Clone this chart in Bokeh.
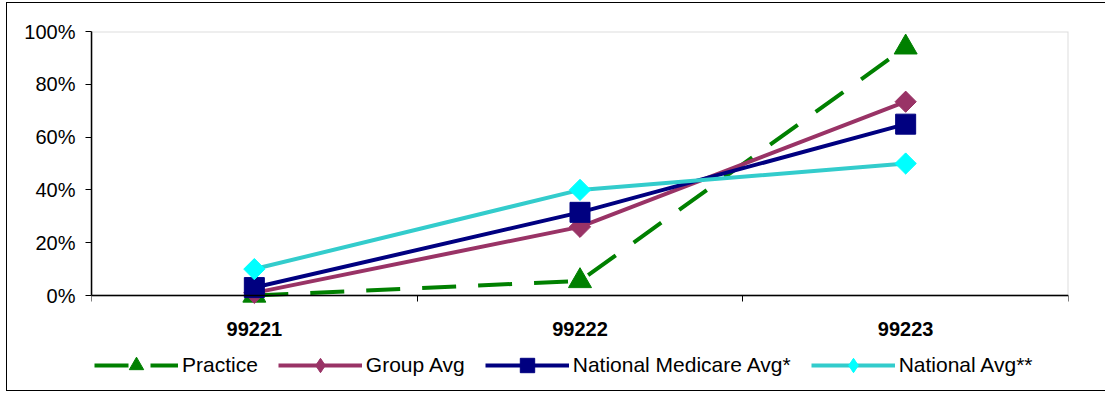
import math
from bokeh.plotting import figure
from bokeh.models import (Range1d, FixedTicker, NumeralTickFormatter, Legend, LegendItem,
                          LinearAxis, BoxAnnotation)
from bokeh.embed import file_html
from bokeh.resources import INLINE

# ---- data ----
categories = ["99221", "99222", "99223"]
practice = [0.0, 0.055, 0.94]
group_avg = [0.01, 0.26, 0.734]
national_medicare_avg = [0.03, 0.315, 0.649]
national_avg = [0.10, 0.40, 0.50]
y_ticks = [0.0, 0.2, 0.4, 0.6, 0.8, 1.0]

FONT = "Liberation Sans"

x = [i + 0.5 for i in range(len(categories))]

# frame: top 31px, zero line at 295px, frame bottom at 390px -> extra room under zero for labels/legend
y_low = -(390 - 295) / (295 - 31)

p = figure(width=1099, height=389, output_backend="svg", toolbar_location=None,
           x_range=Range1d(0, len(categories)), y_range=Range1d(y_low, 1),
           x_axis_location=None, y_axis_location=None,
           min_border_left=84, min_border_right=38, min_border_top=28, min_border_bottom=2)
p.styles = {"margin-top": "2px", "margin-left": "6px",
            "border-top": "1px solid #000", "border-left": "1px solid #000",
            "border-bottom": "1px solid #000"}

p.background_fill_color = "white"
p.border_fill_color = "white"
p.outline_line_color = None
p.xgrid.visible = False
p.ygrid.visible = False

# plot-area border (grey top/right)
p.add_layout(BoxAnnotation(left=0, right=len(categories), bottom=0, top=1,
                           fill_alpha=0, line_color="#8c8c8c", line_width=2, level="underlay"))

# x axis at zero: labels at category centers, ticks between categories
xaxis = LinearAxis(fixed_location=0)
xaxis.ticker = FixedTicker(ticks=x, minor_ticks=list(range(len(categories) + 1)))
xaxis.major_label_overrides = {xv: c for xv, c in zip(x, categories)}
xaxis.major_tick_line_color = None
xaxis.major_tick_out = 0
xaxis.major_tick_in = 0
xaxis.minor_tick_out = 6
xaxis.minor_tick_in = 0
xaxis.minor_tick_line_color = "#000000"
xaxis.axis_line_color = "#000000"
xaxis.axis_line_width = 1.5
xaxis.major_label_standoff = 20
xaxis.major_label_text_font = FONT
xaxis.major_label_text_font_size = "20px"
xaxis.major_label_text_font_style = "bold"
xaxis.major_label_text_color = "#000000"
p.add_layout(xaxis, "below")

# y axis
yaxis = LinearAxis(bounds=(0, 1))
yaxis.ticker = FixedTicker(ticks=y_ticks, minor_ticks=[])
yaxis.formatter = NumeralTickFormatter(format="0%")
yaxis.major_tick_out = 6
yaxis.major_tick_in = 0
yaxis.major_tick_line_color = "#000000"
yaxis.axis_line_color = "#000000"
yaxis.axis_line_width = 1.5
yaxis.major_label_standoff = 10
yaxis.major_label_text_font = FONT
yaxis.major_label_text_font_size = "20px"
yaxis.major_label_text_color = "#000000"
p.add_layout(yaxis, "left")

items = []

# Practice
l1 = p.line(x, practice, line_color="#008000", line_width=4, line_dash="34 22")
m1 = p.scatter(x, practice, marker="triangle", size=23, fill_color="#008000", line_color="#008000")
items.append(LegendItem(label="Practice", renderers=[l1, m1]))

# Group Avg
l2 = p.line(x, group_avg, line_color="#993366", line_width=4)
k2 = p.scatter(x, group_avg, marker="diamond", size=20, fill_color="#993366", line_color="#993366")
m2 = p.scatter(x, group_avg, marker="square", angle=math.pi / 4, size=15,
               fill_color="#993366", line_color="#993366")
items.append(LegendItem(label="Group Avg", renderers=[l2, k2]))

# National Medicare Avg*
l3 = p.line(x, national_medicare_avg, line_color="#000080", line_width=4)
m3 = p.scatter(x, national_medicare_avg, marker="square", size=20,
               fill_color="#000080", line_color="#000080")
items.append(LegendItem(label="National Medicare Avg*", renderers=[l3, m3]))

# National Avg**
l4 = p.line(x, national_avg, line_color="#33CCCC", line_width=4)
k4 = p.scatter(x, national_avg, marker="diamond", size=20, fill_color="#00FFFF", line_color="#00FFFF")
m4 = p.scatter(x, national_avg, marker="square", angle=math.pi / 4, size=15,
               fill_color="#00FFFF", line_color="#00FFFF")
items.append(LegendItem(label="National Avg**", renderers=[l4, k4]))

legend = Legend(items=items, orientation="horizontal", location=(3, 7),
                glyph_width=84, glyph_height=36, label_standoff=4, spacing=20,
                padding=0, margin=0, border_line_color=None, background_fill_alpha=0,
                label_text_font=FONT, label_text_font_size="21px", label_text_color="#000000",
                label_height=20)
p.add_layout(legend, "center")

open("out.html", "w").write(file_html(p, INLINE))
